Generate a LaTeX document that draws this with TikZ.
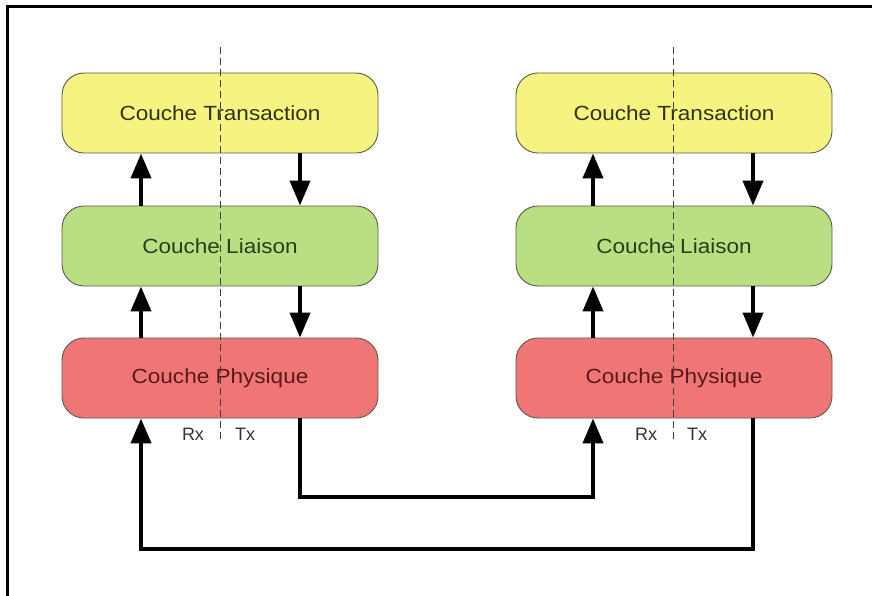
\documentclass[tikz,border=0pt]{standalone}
\usepackage{fontspec}
\setmainfont{Liberation Sans}
\usetikzlibrary{arrows.meta}

\definecolor{transfill}{RGB}{246,243,128}
\definecolor{liaisfill}{RGB}{186,222,130}
\definecolor{physfill}{RGB}{240,118,118}
\definecolor{boxline}{RGB}{90,90,75}
\definecolor{transtext}{RGB}{50,50,20}
\definecolor{liaistext}{RGB}{35,65,25}
\definecolor{phystext}{RGB}{90,25,25}

\tikzset{
  layer/.style={draw=boxline, line width=0.9pt, rounded corners=22pt,
    minimum width=316pt, minimum height=80pt, inner sep=0pt,
    font=\fontsize{20.5}{24}\selectfont},
  flow/.style={line width=4pt, -{Triangle[length=25pt,width=20pt]}},
  split/.style={draw=black!75, line width=1pt, dash pattern=on 7pt off 4pt},
  side/.style={font=\fontsize{18}{21}\selectfont, text=black!80, inner sep=0pt},
}

\newcommand{\wide}[1]{\scalebox{1.1}[1]{#1}}

\begin{document}
\begin{tikzpicture}[x=1pt, y=-1pt]
  \useasboundingbox (0,0) rectangle (872,596);

  % outer frame (top and left edges)
  \draw[line width=3pt] (7,596) -- (7,7) -- (872,7);

  % left stack
  \node[layer, fill=transfill, text=transtext] (tl) at (220,113) {\wide{Couche Transaction}};
  \node[layer, fill=liaisfill, text=liaistext] (ll) at (220,246) {\wide{Couche Liaison}};
  \node[layer, fill=physfill, text=phystext]   (pl) at (220,378) {\wide{Couche Physique}};

  % right stack
  \node[layer, fill=transfill, text=transtext] (tr) at (674,113) {\wide{Couche Transaction}};
  \node[layer, fill=liaisfill, text=liaistext] (lr) at (674,246) {\wide{Couche Liaison}};
  \node[layer, fill=physfill, text=phystext]   (pr) at (674,378) {\wide{Couche Physique}};

  % Rx / Tx split lines
  \coordinate (sl1) at (220,47);
  \coordinate (sl2) at (220,443);
  \coordinate (sr1) at (673,47);
  \coordinate (sr2) at (673,443);
  \draw[split] (sl1) -- (sl2);
  \draw[split] (sr1) -- (sr2);

  \node[side] (rxl) at (193,434) {Rx};
  \node[side] (txl) at (245,434) {Tx};
  \node[side] (rxr) at (646,434) {Rx};
  \node[side] (txr) at (697,434) {Tx};

  % vertical flows, left stack
  \draw[flow] ([xshift=-79pt]ll.north) -- ([xshift=-79pt]tl.south);
  \draw[flow] ([xshift=80pt]tl.south) -- ([xshift=80pt]ll.north);
  \draw[flow] ([xshift=-79pt]pl.north) -- ([xshift=-79pt]ll.south);
  \draw[flow] ([xshift=80pt]ll.south) -- ([xshift=80pt]pl.north);

  % vertical flows, right stack
  \draw[flow] ([xshift=-81pt]lr.north) -- ([xshift=-81pt]tr.south);
  \draw[flow] ([xshift=79pt]tr.south) -- ([xshift=79pt]lr.north);
  \draw[flow] ([xshift=-81pt]pr.north) -- ([xshift=-81pt]lr.south);
  \draw[flow] ([xshift=79pt]lr.south) -- ([xshift=79pt]pr.north);

  % links between the two physical layers
  \draw[flow] ([xshift=80pt]pl.south) -- ++(0,79) -| ([xshift=-81pt]pr.south);
  \draw[flow] ([xshift=79pt]pr.south) -- ++(0,131) -| ([xshift=-79pt]pl.south);
\end{tikzpicture}
\end{document}
